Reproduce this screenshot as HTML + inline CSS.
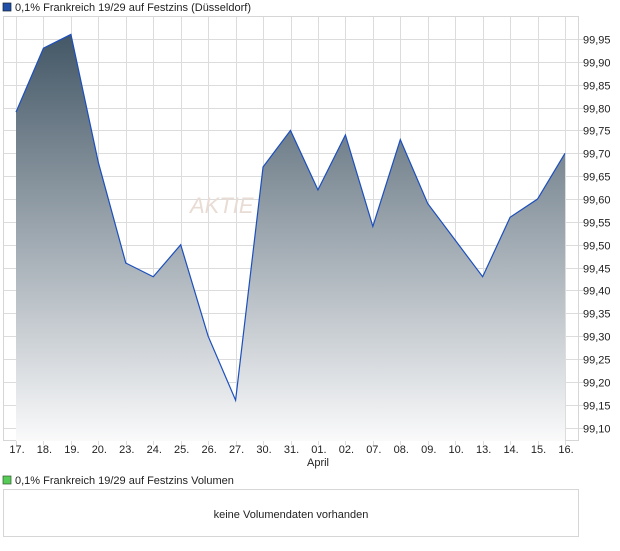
<!DOCTYPE html>
<html><head><meta charset="utf-8"><style>
body{margin:0;background:#fff;font-family:"Liberation Sans",sans-serif;}
</style></head><body>
<svg width="620" height="546" xmlns="http://www.w3.org/2000/svg" font-family="Liberation Sans, sans-serif" font-size="11">
<defs><linearGradient id="g" x1="0" y1="34" x2="0" y2="441" gradientUnits="userSpaceOnUse">
<stop offset="0" stop-color="#435766"/><stop offset="1" stop-color="#fafafb"/></linearGradient></defs>
<rect x="3" y="3" width="8" height="8" fill="#1f4fa8" stroke="#123" stroke-width="0.7"/>
<text x="15" y="11" fill="#222">0,1% Frankreich 19/29 auf Festzins (Düsseldorf)</text>
<g stroke="#dcdcdc" stroke-width="1" id="grid"></g>
<rect x="3.5" y="16.5" width="575" height="424" fill="none" stroke="#d6d6d6"/>
<polygon id="area" fill="url(#g)"/>
<polyline id="line" fill="none" stroke="#1c4fbd" stroke-width="1.2"/>
<text x="190" y="213" font-size="22" fill="#e8dcd4" font-style="italic">AKTIE</text>
<g id="yl" fill="#222"></g><g id="xl" fill="#222" text-anchor="middle"></g>
<text x="318" y="466" fill="#222" text-anchor="middle">April</text>
<rect x="3" y="476" width="8" height="8" fill="#5c5" stroke="#353" stroke-width="0.7"/>
<text x="15" y="484" fill="#222">0,1% Frankreich 19/29 auf Festzins Volumen</text>
<rect x="3.5" y="489.5" width="575" height="47" fill="none" stroke="#d6d6d6"/>
<text x="291" y="518" fill="#222" text-anchor="middle">keine Volumendaten vorhanden</text>
</svg>
<script>
var d=[99.79,99.93,99.96,99.68,99.46,99.43,99.50,99.30,99.16,99.67,99.75,99.62,99.74,99.54,99.73,99.59,99.51,99.43,99.56,99.60,99.70];
var lab=["17.","18.","19.","20.","23.","24.","25.","26.","27.","30.","31.","01.","02.","07.","08.","09.","10.","13.","14.","15.","16."];
function X(i){return 16+i*27.45}function Y(v){return 39+(99.95-v)/0.05*22.86}
var ns="http://www.w3.org/2000/svg",g=document.getElementById("grid"),yl=document.getElementById("yl"),xl=document.getElementById("xl");
for(var i=0;i<21;i++){var l=document.createElementNS(ns,"line");l.setAttribute("x1",Math.round(X(i))+.5);l.setAttribute("x2",Math.round(X(i))+.5);l.setAttribute("y1",16);l.setAttribute("y2",445);g.appendChild(l);
var t=document.createElementNS(ns,"text");t.setAttribute("x",X(i)+1);t.setAttribute("y",453);t.textContent=lab[i];xl.appendChild(t);}
for(var k=0;k<18;k++){var v=99.95-k*0.05,y=Math.round(Y(v))+.5;var l=document.createElementNS(ns,"line");l.setAttribute("x1",3);l.setAttribute("x2",585);l.setAttribute("y1",y);l.setAttribute("y2",y);g.appendChild(l);
var t=document.createElementNS(ns,"text");t.setAttribute("x",583);t.setAttribute("y",y+4);t.textContent=v.toFixed(2).replace(".",",");yl.appendChild(t);}
var p=d.map(function(v,i){return X(i)+","+Y(v)}).join(" ");
document.getElementById("line").setAttribute("points",p);
document.getElementById("area").setAttribute("points",p+" "+X(20)+",441 "+X(0)+",441");
</script>
</body></html>
